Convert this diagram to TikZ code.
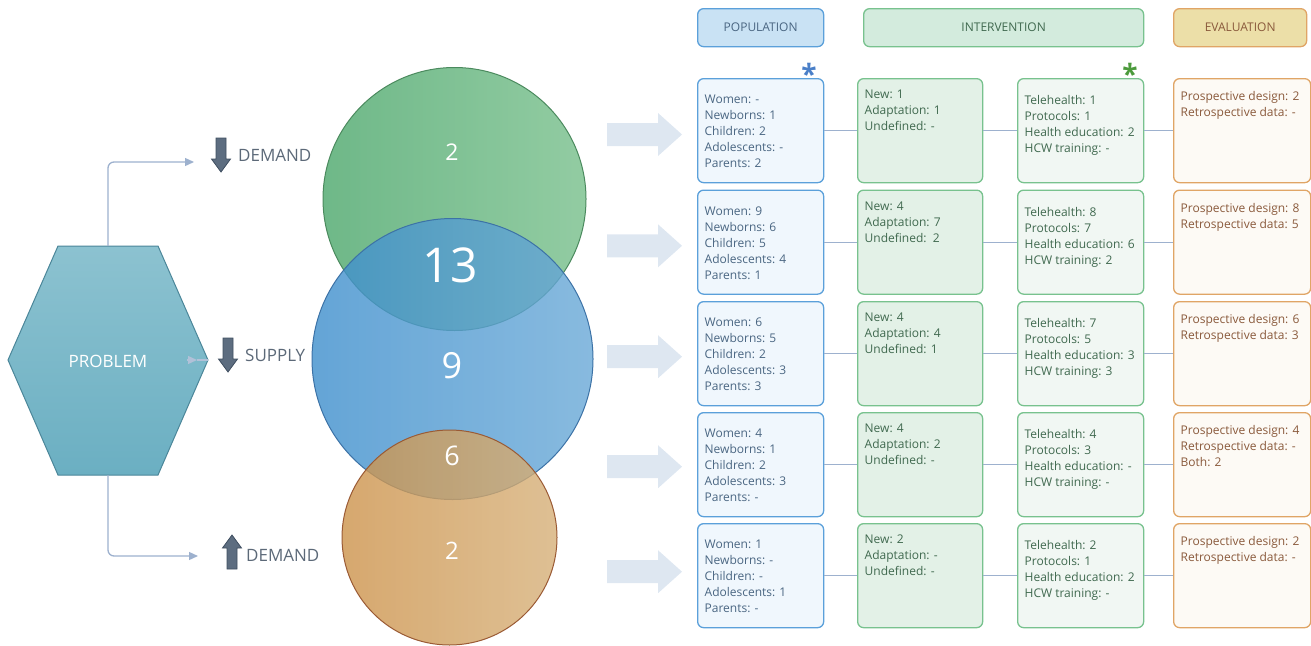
\documentclass[tikz,border=0pt]{standalone}
\usepackage{fontspec}
\setmainfont{Open Sans}
\usetikzlibrary{arrows.meta,calc}
\definecolor{popB}{HTML}{5BA0DA}
\definecolor{popF}{HTML}{F0F7FD}
\definecolor{popH}{HTML}{C9E2F4}
\definecolor{popT}{HTML}{4A6682}
\definecolor{intB}{HTML}{78C28E}
\definecolor{intF}{HTML}{E3F1E7}
\definecolor{intG}{HTML}{F1F7F3}
\definecolor{intH}{HTML}{D3EBDD}
\definecolor{intT}{HTML}{40694F}
\definecolor{evB}{HTML}{E0A566}
\definecolor{evF}{HTML}{FDFAF5}
\definecolor{evH}{HTML}{ECDFA8}
\definecolor{evT}{HTML}{8A5A3C}
\definecolor{connC}{HTML}{9DB1CE}
\definecolor{bigA}{HTML}{DEE7F1}
\definecolor{darkA}{HTML}{5D6D80}
\definecolor{darkAB}{HTML}{3F4E60}
\definecolor{hexT}{HTML}{8CC2D0}
\definecolor{hexBo}{HTML}{6BAFC2}
\definecolor{hexE}{HTML}{4B8699}
\definecolor{gL}{HTML}{4AA66A}
\definecolor{gR}{HTML}{77BF8B}
\definecolor{gE}{HTML}{4B8A5E}
\definecolor{bL}{HTML}{3D8ECC}
\definecolor{bR}{HTML}{6AA9D7}
\definecolor{bE}{HTML}{3C72A6}
\definecolor{oL}{HTML}{CC924A}
\definecolor{oR}{HTML}{D6B079}
\definecolor{oE}{HTML}{9A5A34}
\definecolor{starB}{HTML}{4A7FC8}
\definecolor{starG}{HTML}{4C9A3C}
\newcommand{\celltext}[4]{\parbox[c][#2][t]{#1}{\fontsize{12}{16}\selectfont\raggedright\leftskip=7pt\relax\vspace*{#3}#4}}
\tikzset{
  cellbase/.style={rounded corners=6pt, line width=1.3pt, inner sep=0pt, anchor=north west},
  popbox/.style={cellbase, draw=popB, fill=popF, text=popT},
  intbox/.style={cellbase, draw=intB, fill=intF, text=intT},
  telbox/.style={cellbase, draw=intB, fill=intG, text=intT},
  evbox/.style={cellbase, draw=evB, fill=evF, text=evT},
  hdr/.style={rounded corners=6pt, line width=1.3pt, inner sep=0pt, anchor=north west, minimum height=38pt, font=\fontsize{12}{14}\selectfont},
  link/.style={draw=connC, line width=1.3pt},
  conn/.style={draw=connC, line width=1.3pt, rounded corners=6pt},
  connarrow/.style={conn, -{Triangle[length=9pt,width=8pt]}},
  darkarrow/.style={fill=darkA, draw=darkAB, line width=0.8pt},
  downarr/.pic={\path[darkarrow] (-5,0) -- (5,0) -- (5,21) -- (9.5,21) -- (0,34) -- (-9.5,21) -- (-5,21) -- cycle;},
  uparr/.pic={\path[darkarrow] (-5,34) -- (5,34) -- (5,13) -- (9.5,13) -- (0,0) -- (-9.5,13) -- (-5,13) -- cycle;},
  bigarr/.pic={\fill[bigA] (0,-11.5) -- (51,-11.5) -- (51,-21.5) -- (75,0) -- (51,21.5) -- (51,11.5) -- (0,11.5) -- cycle;},
  lbl/.style={anchor=west, inner sep=0pt, text=darkAB!85!white, font=\fontsize{17}{20}\selectfont},
  num/.style={text=white, inner sep=0pt},
}
\begin{document}
\begin{tikzpicture}[x=1pt,y=-1pt]
\useasboundingbox (0,0) rectangle (1311,645);
% hexagon
\coordinate (hexTL) at (58,246);
\coordinate (hexTR) at (158,246);
\coordinate (hexR) at (208,360);
\coordinate (hexBR) at (158,475);
\coordinate (hexBL) at (58,475);
\coordinate (hexL) at (8,360);
\coordinate (hexTop) at (108,246);
\coordinate (hexBot) at (108,475);
\path[top color=hexT, bottom color=hexBo, draw=hexE, line width=1pt] (hexTL) -- (hexTR) -- (hexR) -- (hexBR) -- (hexBL) -- (hexL) -- cycle;
\node[num, font=\fontsize{17}{20}\selectfont] (prob) at (108,361) {PROBLEM};
% connectors from hexagon
\coordinate (topEnd) at (194,162);
\coordinate (botEnd) at (198,556);
\draw[connarrow] (hexTop) |- (topEnd);
\draw[connarrow] (hexBot) |- (botEnd);
\coordinate (midS) at ($(hexR)+(-21,0)$);
\coordinate (midM) at ($(hexR)+(-11,0)$);
\draw[connarrow, draw=connC!80!white] (midS) -- (midM);
\draw[conn, draw=connC!80!white] (midM) -- (hexR);
% dark arrows and labels
\pic at (221,138) {downarr};
\pic at (228,338) {downarr};
\pic at (232,535) {uparr};
\node[lbl] (dem1) at (238,155) {DEMAND};
\node[lbl] (sup) at (245,355) {SUPPLY};
\node[lbl] (dem2) at (246,555.5) {DEMAND};
% circles
\path[left color=gL, right color=gR, draw=gE, line width=1pt, fill opacity=0.8] (454.5,199) circle[radius=131.5pt];
\path[left color=bL, right color=bR, draw=bE, line width=1pt, fill opacity=0.8] (452.5,359) circle[radius=140.5pt];
\path[left color=oL, right color=oR, draw=oE, line width=1pt, fill opacity=0.8] (449.5,537.5) circle[radius=107.5pt];
\node[num, font=\fontsize{23}{26}\selectfont] (n1) at (452,152.5) {2};
\node[num, font=\fontsize{48}{52}\selectfont] (n2) at (450,265) {13};
\node[num, font=\fontsize{36}{40}\selectfont] (n3) at (452,366) {9};
\node[num, font=\fontsize{27}{30}\selectfont] (n4) at (452,456) {6};
\node[num, font=\fontsize{24}{28}\selectfont] (n5) at (452,551) {2};
% big light arrows
\foreach \yy in {134.5,245.8,356.7,466.7,571.7} \pic at (607,\yy) {bigarr};
% headers
\node[hdr, draw=popB, fill=popH, text=popT, minimum width=126pt] (hpop) at (697,8) {POPULATION};
\node[hdr, draw=intB, fill=intH, text=intT, minimum width=280pt] (hint) at (863,8) {INTERVENTION};
\node[hdr, draw=evB, fill=evH, text=evT, minimum width=133pt] (hev) at (1173,8) {EVALUATION};
% asterisks
\node[inner sep=0pt, text=starB, font=\bfseries\fontsize{28}{30}\selectfont] (s1) at (809,74) {*};
\node[inner sep=0pt, text=starG, font=\bfseries\fontsize{28}{30}\selectfont] (s2) at (1130,73.5) {*};
% rows
\def\rowA{78}\def\rowB{189.5}\def\rowC{301}\def\rowD{412}\def\rowE{523}
\node[popbox] (p1) at (697,\rowA) {\celltext{126pt}{104pt}{16.5pt}{Women: -\\Newborns: 1\\Children: 2\\Adolescents: -\\Parents: 2}};
\node[popbox] (p2) at (697,\rowB) {\celltext{126pt}{104pt}{16.5pt}{Women: 9\\Newborns: 6\\Children: 5\\Adolescents: 4\\Parents: 1}};
\node[popbox] (p3) at (697,\rowC) {\celltext{126pt}{104pt}{16.5pt}{Women: 6\\Newborns: 5\\Children: 2\\Adolescents: 3\\Parents: 3}};
\node[popbox] (p4) at (697,\rowD) {\celltext{126pt}{104pt}{16.5pt}{Women: 4\\Newborns: 1\\Children: 2\\Adolescents: 3\\Parents: -}};
\node[popbox] (p5) at (697,\rowE) {\celltext{126pt}{104pt}{16.5pt}{Women: 1\\Newborns: -\\Children: -\\Adolescents: 1\\Parents: -}};
\node[intbox] (i1) at (857,\rowA) {\celltext{125pt}{104pt}{11.5pt}{New: 1\\Adaptation: 1\\Undefined: -}};
\node[intbox] (i2) at (857,\rowB) {\celltext{125pt}{104pt}{11.5pt}{New: 4\\Adaptation: 7\\Undefined:~~2}};
\node[intbox] (i3) at (857,\rowC) {\celltext{125pt}{104pt}{11.5pt}{New: 4\\Adaptation: 4\\Undefined: 1}};
\node[intbox] (i4) at (857,\rowD) {\celltext{125pt}{104pt}{11.5pt}{New: 4\\Adaptation: 2\\Undefined: -}};
\node[intbox] (i5) at (857,\rowE) {\celltext{125pt}{104pt}{11.5pt}{New: 2\\Adaptation: -\\Undefined: -}};
\node[telbox] (t1) at (1017,\rowA) {\celltext{126pt}{104pt}{17pt}{Telehealth: 1\\Protocols: 1\\Health education: 2\\HCW training: -}};
\node[telbox] (t2) at (1017,\rowB) {\celltext{126pt}{104pt}{17pt}{Telehealth: 8\\Protocols: 7\\Health education: 6\\HCW training: 2}};
\node[telbox] (t3) at (1017,\rowC) {\celltext{126pt}{104pt}{17pt}{Telehealth: 7\\Protocols: 5\\Health education: 3\\HCW training: 3}};
\node[telbox] (t4) at (1017,\rowD) {\celltext{126pt}{104pt}{17pt}{Telehealth: 4\\Protocols: 3\\Health education: -\\HCW training: -}};
\node[telbox] (t5) at (1017,\rowE) {\celltext{126pt}{104pt}{17pt}{Telehealth: 2\\Protocols: 1\\Health education: 2\\HCW training: -}};
\node[evbox] (e1) at (1173,\rowA) {\celltext{137pt}{104pt}{13pt}{Prospective design: 2\\Retrospective data: -}};
\node[evbox] (e2) at (1173,\rowB) {\celltext{137pt}{104pt}{13pt}{Prospective design: 8\\Retrospective data: 5}};
\node[evbox] (e3) at (1173,\rowC) {\celltext{137pt}{104pt}{13pt}{Prospective design: 6\\Retrospective data: 3}};
\node[evbox] (e4) at (1173,\rowD) {\celltext{137pt}{104pt}{13pt}{Prospective design: 4\\Retrospective data: -\\Both: 2}};
\node[evbox] (e5) at (1173,\rowE) {\celltext{137pt}{104pt}{13pt}{Prospective design: 2\\Retrospective data: -}};
\foreach \r in {1,...,5} {
  \draw[link] (p\r.east) -- (i\r.west);
  \draw[link] (i\r.east) -- (t\r.west);
  \draw[link] (t\r.east) -- (e\r.west);
}
\end{tikzpicture}
\end{document}
